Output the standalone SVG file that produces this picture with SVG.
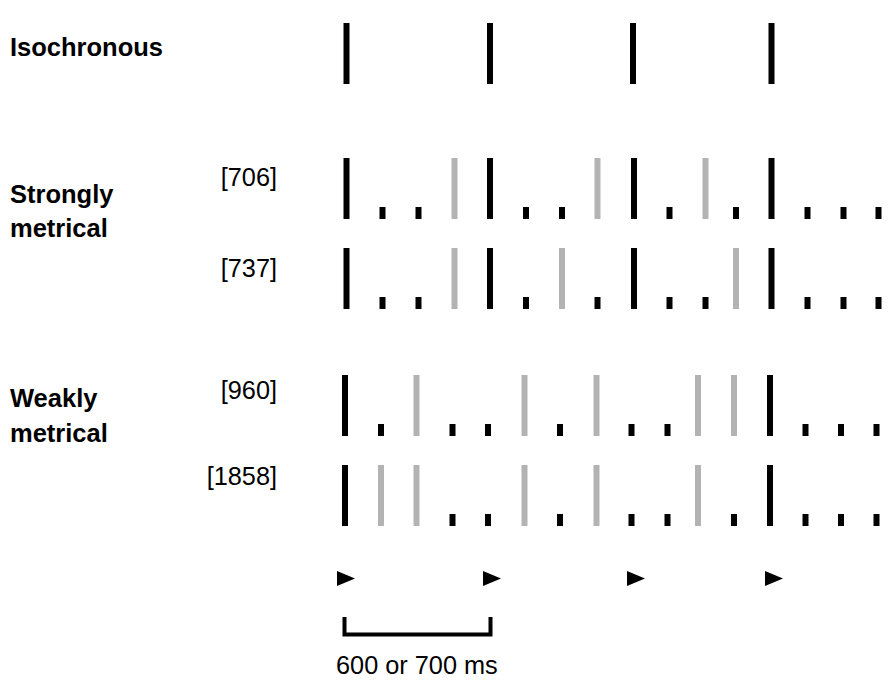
<svg xmlns="http://www.w3.org/2000/svg" width="892" height="685" viewBox="0 0 892 685">
<style>
.lbl{font-family:"Liberation Sans",Arial,sans-serif;font-weight:bold;font-size:25.5px;fill:#000}
.num{font-family:"Liberation Sans",Arial,sans-serif;font-size:25.3px;fill:#000}
.k{fill:#000}
.g{fill:#b3b3b3}
.tri{fill:#000}
</style>
<rect width="892" height="685" fill="#fff"/>
<g id="labels">
<text class="lbl" x="10" y="56">Isochronous</text>
<text class="lbl" x="10" y="203">Strongly</text>
<text class="lbl" x="10" y="237">metrical</text>
<text class="lbl" x="10" y="407">Weakly</text>
<text class="lbl" x="10" y="442">metrical</text>
<text class="num" x="277" y="186" text-anchor="end">[706]</text>
<text class="num" x="277" y="277" text-anchor="end">[737]</text>
<text class="num" x="277" y="399" text-anchor="end">[960]</text>
<text class="num" x="277" y="485" text-anchor="end">[1858]</text>
</g>
<g id="row-iso">
<rect class="k" x="343.5" y="23" width="6" height="61"/>
<rect class="k" x="487" y="23" width="6" height="61"/>
<rect class="k" x="630" y="23" width="6" height="61"/>
<rect class="k" x="768.5" y="23" width="6" height="61"/>
</g>
<g id="row-706">
<rect class="k" x="343.5" y="158" width="6" height="61"/>
<rect class="k" x="379.5" y="207" width="6" height="12"/>
<rect class="k" x="415.5" y="207" width="6" height="12"/>
<rect class="g" x="451.5" y="158" width="6" height="61"/>
<rect class="k" x="487" y="158" width="6" height="61"/>
<rect class="k" x="523" y="207" width="6" height="12"/>
<rect class="k" x="559" y="207" width="6" height="12"/>
<rect class="g" x="594.5" y="158" width="6" height="61"/>
<rect class="k" x="631" y="158" width="6" height="61"/>
<rect class="k" x="666.5" y="207" width="6" height="12"/>
<rect class="g" x="702.5" y="158" width="6" height="61"/>
<rect class="k" x="733" y="207" width="6" height="12"/>
<rect class="k" x="768.5" y="158" width="6" height="61"/>
<rect class="k" x="804.5" y="207" width="6" height="12"/>
<rect class="k" x="840.5" y="207" width="6" height="12"/>
<rect class="k" x="875.5" y="207" width="6" height="12"/>
</g>
<g id="row-737">
<rect class="k" x="343.5" y="248" width="6" height="61"/>
<rect class="k" x="379.5" y="297" width="6" height="12"/>
<rect class="k" x="415.5" y="297" width="6" height="12"/>
<rect class="g" x="451.5" y="248" width="6" height="61"/>
<rect class="k" x="487" y="248" width="6" height="61"/>
<rect class="k" x="523" y="297" width="6" height="12"/>
<rect class="g" x="559" y="248" width="6" height="61"/>
<rect class="k" x="594.5" y="297" width="6" height="12"/>
<rect class="k" x="631" y="248" width="6" height="61"/>
<rect class="k" x="666.5" y="297" width="6" height="12"/>
<rect class="k" x="702.5" y="297" width="6" height="12"/>
<rect class="g" x="733" y="248" width="6" height="61"/>
<rect class="k" x="768.5" y="248" width="6" height="61"/>
<rect class="k" x="804.5" y="297" width="6" height="12"/>
<rect class="k" x="840.5" y="297" width="6" height="12"/>
<rect class="k" x="875.5" y="297" width="6" height="12"/>
</g>
<g id="row-960">
<rect class="k" x="342" y="375" width="6" height="61"/>
<rect class="k" x="378" y="424" width="6" height="12"/>
<rect class="g" x="413.5" y="375" width="6" height="61"/>
<rect class="k" x="449.5" y="424" width="6" height="12"/>
<rect class="k" x="485" y="424" width="6" height="12"/>
<rect class="g" x="521.5" y="375" width="6" height="61"/>
<rect class="k" x="557" y="424" width="6" height="12"/>
<rect class="g" x="593.5" y="375" width="6" height="61"/>
<rect class="k" x="628.5" y="424" width="6" height="12"/>
<rect class="k" x="664.5" y="424" width="6" height="12"/>
<rect class="g" x="695" y="375" width="6" height="61"/>
<rect class="g" x="731" y="375" width="6" height="61"/>
<rect class="k" x="767" y="375" width="6" height="61"/>
<rect class="k" x="802.5" y="424" width="6" height="12"/>
<rect class="k" x="838" y="424" width="6" height="12"/>
<rect class="k" x="873.5" y="424" width="6" height="12"/>
</g>
<g id="row-1858">
<rect class="k" x="342" y="465" width="6" height="61"/>
<rect class="g" x="378" y="465" width="6" height="61"/>
<rect class="g" x="413.5" y="465" width="6" height="61"/>
<rect class="k" x="449.5" y="514" width="6" height="12"/>
<rect class="k" x="485" y="514" width="6" height="12"/>
<rect class="g" x="521.5" y="465" width="6" height="61"/>
<rect class="k" x="557" y="514" width="6" height="12"/>
<rect class="g" x="593.5" y="465" width="6" height="61"/>
<rect class="k" x="628.5" y="514" width="6" height="12"/>
<rect class="k" x="664.5" y="514" width="6" height="12"/>
<rect class="g" x="695" y="465" width="6" height="61"/>
<rect class="k" x="731" y="514" width="6" height="12"/>
<rect class="k" x="767" y="465" width="6" height="61"/>
<rect class="k" x="802.5" y="514" width="6" height="12"/>
<rect class="k" x="838" y="514" width="6" height="12"/>
<rect class="k" x="873.5" y="514" width="6" height="12"/>
</g>
<g id="beats">
<polygon class="tri" points="337,571 337,586 355,578.5"/>
<polygon class="tri" points="483,571 483,586 501,578.5"/>
<polygon class="tri" points="627,571 627,586 645,578.5"/>
<polygon class="tri" points="765,571 765,586 783,578.5"/>
</g>
<g id="scale">
<path d="M344.5,617 V634.5 H490.5 V617" fill="none" stroke="#000" stroke-width="4"/>
<text class="num" x="336" y="674">600 or 700 ms</text>
</g>
</svg>
